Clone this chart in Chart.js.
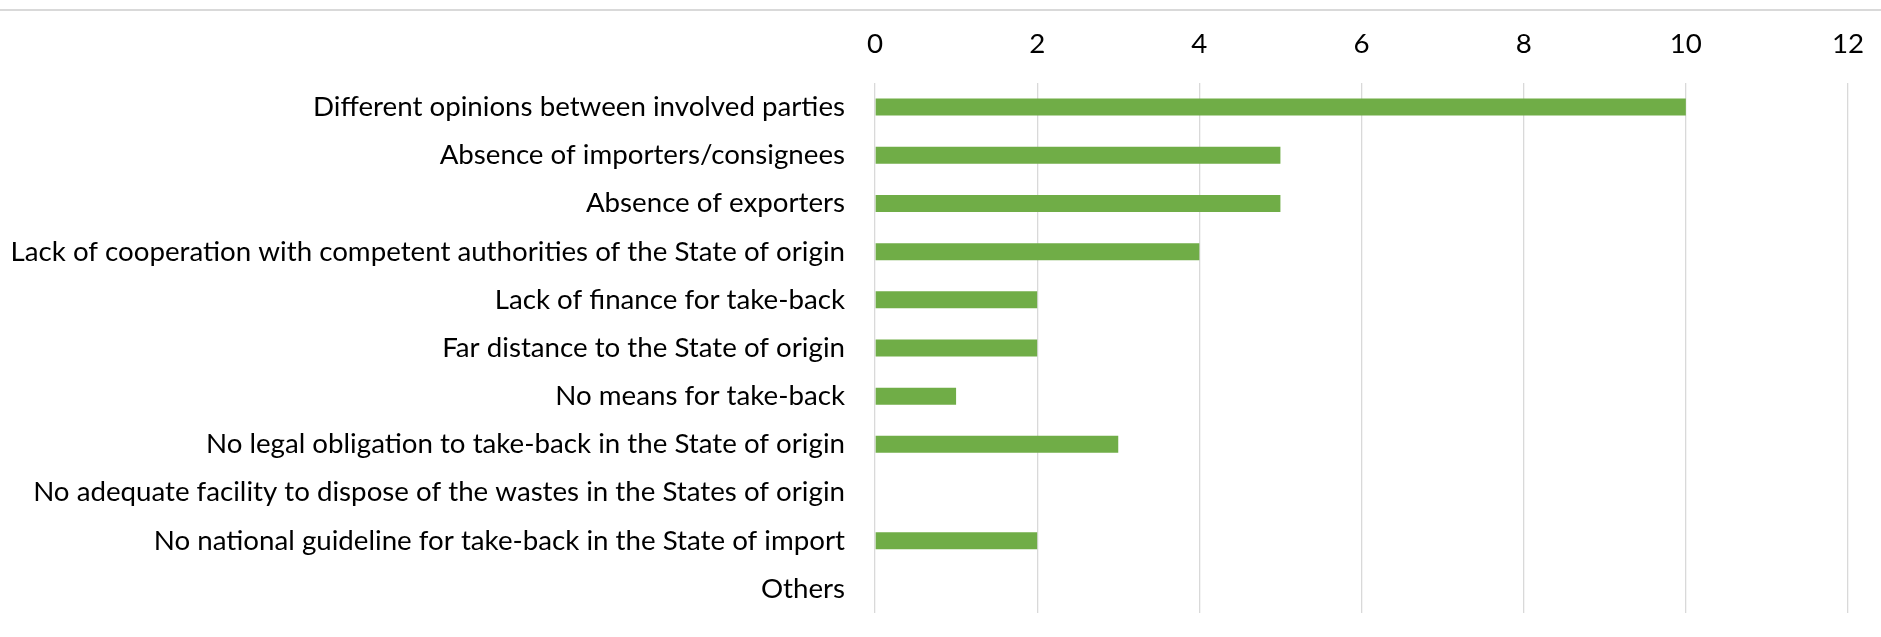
<!DOCTYPE html>
<html>
<head>
<meta charset="utf-8">
<script src="https://cdn.jsdelivr.net/npm/chart.js@4/dist/chart.umd.min.js"></script>
<style>
  html, body { margin: 0; padding: 0; background: #fff; }
  #wrap { position: relative; width: 1881px; height: 637px; }
  #topline { position: absolute; left: 0; top: 9px; width: 1881px; height: 2px; background: #d9d9d9; }
  canvas { position: absolute; left: 0; top: 0; }
</style>
</head>
<body>
<div id="wrap">
  <canvas id="chart" width="1881" height="637"></canvas>
  <div id="topline"></div>
</div>
<script>
const categories = [
  'Different opinions between involved parties',
  'Absence of importers/consignees',
  'Absence of exporters',
  'Lack of cooperation with competent authorities of the State of origin',
  'Lack of finance for take-back',
  'Far distance to the State of origin',
  'No means for take-back',
  'No legal obligation to take-back in the State of origin',
  'No adequate facility to dispose of the wastes in the States of origin',
  'No national guideline for take-back in the State of import',
  'Others'
];
const counts = [10, 5, 5, 4, 2, 2, 1, 3, 0, 2, 0];
const xTicks = [0, 2, 4, 6, 8, 10, 12];

const font = { family: 'Lato', size: 27.7 };

new Chart(document.getElementById('chart'), {
  type: 'bar',
  data: {
    labels: categories,
    datasets: [{
      data: counts,
      backgroundColor: '#70ad47',
      borderWidth: 0,
      barPercentage: 0.353,
      categoryPercentage: 1
    }]
  },
  options: {
    indexAxis: 'y',
    responsive: false,
    animation: false,
    layout: { padding: { top: 0, right: 33, bottom: 24, left: 0 } },
    plugins: { legend: { display: false }, tooltip: { enabled: false } },
    scales: {
      x: {
        position: 'top',
        min: 0,
        max: 12,
        afterBuildTicks: axis => { axis.ticks = xTicks.map(v => ({ value: v })); },
        afterFit: axis => { axis.height = 83; axis.paddingLeft = 0; axis.paddingRight = 0; },
        grid: { color: '#d9d9d9', lineWidth: 1.3, drawTicks: false },
        border: { display: false },
        ticks: { font: font, color: '#000', padding: 22 }
      },
      y: {
        afterFit: axis => { axis.width = 875; axis.paddingTop = 0; axis.paddingBottom = 0; },
        grid: { display: false },
        border: { display: false },
        ticks: { font: font, color: '#000', padding: 22 }
      }
    }
  }
});
</script>
</body>
</html>
